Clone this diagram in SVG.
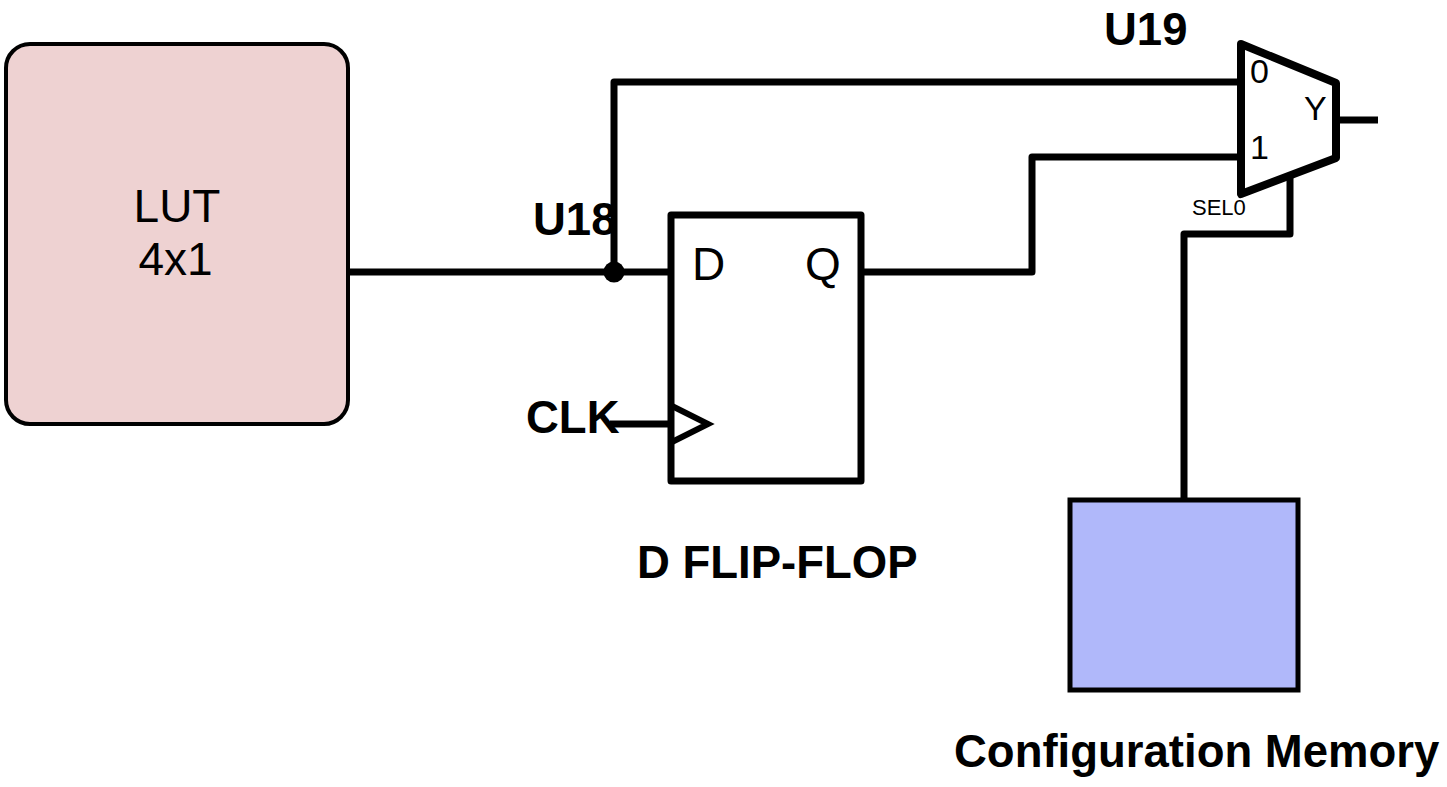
<svg xmlns="http://www.w3.org/2000/svg" width="1447" height="787" viewBox="0 0 1447 787">
<style>
text{font-family:"Liberation Sans",Arial,sans-serif;fill:#000}
.b{font-weight:bold;font-size:45.500px}
.w{fill:none;stroke:#000;stroke-width:7;stroke-linejoin:round;stroke-linecap:butt}
.s{stroke:#000;stroke-width:7;stroke-linejoin:round}
</style>
<rect width="1447" height="787" fill="#fff"/>
<g id="connectors">
<path class="w" d="M348 272H670"/>
<path class="w" d="M614 272V82H1241"/>
<path class="w" d="M861 272H1032V157H1241"/>
<path class="w" d="M1184 500V234H1290V178"/>
<path class="w" d="M1336 120H1378"/>
<path class="w" d="M610 424H672"/>
<circle cx="614" cy="272" r="10.500" fill="#000"/>
</g>
<g id="lut">
<rect x="6" y="44" width="342" height="380" rx="24" ry="24" fill="#eed2d2" stroke="#000" stroke-width="4"/>
<text x="177" y="222" font-size="46" text-anchor="middle">LUT</text>
<text x="175.500" y="275" font-size="46" text-anchor="middle">4x1</text>
</g>
<g id="ff">
<rect class="s" x="671" y="215" width="190" height="266" fill="none"/>
<path d="M672 406L708 424L672 442" fill="none" stroke="#000" stroke-width="6"/>
<text x="692" y="280" font-size="46">D</text>
<text x="805" y="280" font-size="46">Q</text>
<text class="b" x="637" y="578">D FLIP-FLOP</text>
<text class="b" x="526" y="433">CLK</text>
<text class="b" x="533" y="235">U18</text>
</g>
<g id="mux">
<path d="M1241 44L1336 83V158L1241 194Z" fill="none" stroke="#000" stroke-width="8" stroke-linejoin="round"/>
<text x="1250" y="83" font-size="34">0</text>
<text x="1250" y="159" font-size="34">1</text>
<text x="1304" y="120" font-size="34">Y</text>
<text x="1192" y="215" font-size="22">SEL0</text>
<text class="b" x="1104" y="45">U19</text>
</g>
<g id="mem">
<rect x="1070" y="500" width="228" height="190" fill="#b0b8fa" stroke="#000" stroke-width="5"/>
<text class="b" x="954" y="767">Configuration Memory</text>
</g>
</svg>
